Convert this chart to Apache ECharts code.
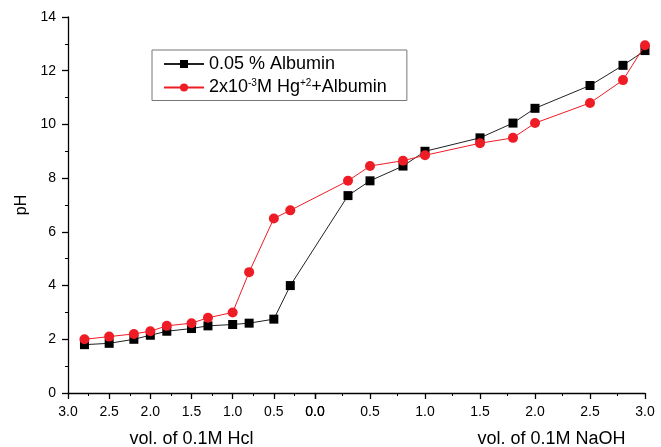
<!DOCTYPE html>
<html><head><meta charset="utf-8">
<script src="https://cdn.jsdelivr.net/npm/echarts@6/dist/echarts.min.js"></script>
<style>html,body{margin:0;padding:0;background:#fff}#c{width:661px;height:447px}</style>
</head><body><div id="c"></div>
<script>
// HCl branch (x read right-to-left on the left half)
var hclVol   = [2.8, 2.5, 2.2, 2.0, 1.8, 1.5, 1.3, 1.0, 0.8, 0.5, 0.3];
var albHcl   = [1.8, 1.85, 2.0, 2.15, 2.3, 2.4, 2.5, 2.55, 2.6, 2.75, 4.0];
var hgHcl    = [2.0, 2.1, 2.2, 2.3, 2.5, 2.6, 2.8, 3.0, 4.5, 6.5, 6.8];
// NaOH branch
var naohVol  = [0.3, 0.5, 0.8, 1.0, 1.5, 1.8, 2.0, 2.5, 2.8, 3.0];
var albNaoh  = [7.35, 7.9, 8.45, 9.0, 9.5, 10.05, 10.6, 11.45, 12.2, 12.75];
var hgNaoh   = [7.9, 8.45, 8.65, 8.85, 9.3, 9.5, 10.05, 10.8, 11.65, 12.95];
var seriesNames = ['0.05 % Albumin', '2x10-3M Hg+2+Albumin'];
var xTitles = ['vol. of 0.1M Hcl', 'vol. of 0.1M NaOH'];
var yTitle = 'pH';

var GL = 68, GT = 17, GH = 376, LW = 247, RW = 330;
var K = LW / RW; // left-half units expressed in right-half units
function join(vHcl, pHcl, vNa, pNa) {
  var out = [];
  for (var i = 0; i < vHcl.length; i++) out.push([-vHcl[i] * K, pHcl[i]]);
  for (var j = 0; j < vNa.length; j++) out.push([vNa[j], pNa[j]]);
  return out;
}
var font = 'Liberation Sans, Arial, sans-serif';
var xCommon = {
  type: 'value', min: 0, max: 3, interval: 0.5,
  axisLine: {show: true, onZero: false, lineStyle: {color: '#000', width: 1.3}},
  axisTick: {show: true, length: 6, lineStyle: {color: '#000', width: 1.3}},
  minorTick: {show: true, splitNumber: 2, length: 3, lineStyle: {color: '#000', width: 1}},
  splitLine: {show: false},
  axisLabel: {color: '#000', fontSize: 14, fontFamily: font, margin: 12,
    formatter: function (v) { return v.toFixed(1); }, showMinLabel: true, showMaxLabel: true},
  nameLocation: 'middle', nameGap: 37,
  nameTextStyle: {color: '#000', fontSize: 18, fontFamily: font}
};
var chart = echarts.init(document.getElementById('c'), null, {renderer: 'canvas'});
chart.setOption({
  animation: false,
  backgroundColor: '#fff',
  grid: [
    {left: GL, top: GT, width: LW, height: GH, containLabel: false, outerBoundsMode: 'none'},
    {left: GL + LW, top: GT, width: RW, height: GH, containLabel: false, outerBoundsMode: 'none'},
    {left: GL, top: GT, width: LW + RW, height: GH, containLabel: false, outerBoundsMode: 'none'}
  ],
  xAxis: [
    Object.assign({}, xCommon, {gridIndex: 0, inverse: true, name: xTitles[0]}),
    Object.assign({}, xCommon, {gridIndex: 1, name: xTitles[1],
      nameTextStyle: {color: '#000', fontSize: 18, fontFamily: font, padding: [0, 0, 0, 143]}}),
    {type: 'value', gridIndex: 2, min: -3 * K, max: 3, show: false}
  ],
  yAxis: [
    {type: 'value', gridIndex: 0, min: 0, max: 14, show: false},
    {type: 'value', gridIndex: 1, min: 0, max: 14, show: false},
    {type: 'value', gridIndex: 2, min: 0, max: 14, interval: 2,
      axisLine: {show: true, onZero: false, lineStyle: {color: '#000', width: 1.3}},
      axisTick: {show: true, length: 6, lineStyle: {color: '#000', width: 1.3}},
      minorTick: {show: true, splitNumber: 2, length: 3, lineStyle: {color: '#000', width: 1}},
      splitLine: {show: false},
      axisLabel: {color: '#000', fontSize: 14, fontFamily: font, margin: 12},
      name: yTitle, nameLocation: 'middle', nameGap: 38,
      nameTextStyle: {color: '#000', fontSize: 16, fontFamily: font}}
  ],
  legend: {
    orient: 'vertical', left: 152, top: 50,
    padding: [5, 20, 4, 11], itemGap: 5, itemWidth: 40, itemHeight: 10,
    borderColor: '#777', borderWidth: 1,
    data: seriesNames,
    textStyle: {color: '#000', fontSize: 18, fontFamily: font,
      rich: {
        a: {fontSize: 18, fontFamily: font, color: '#000'},
        s: {fontSize: 10, fontFamily: font, color: '#000', verticalAlign: 'top', padding: [0, 0, 9, 0]}
      }},
    formatter: function (n) {
      if (n === seriesNames[1]) return '{a|2x10}{s|-3}{a|M Hg}{s|+2}{a|+Albumin}';
      return n;
    }
  },
  series: [
    {name: seriesNames[0], type: 'line', xAxisIndex: 2, yAxisIndex: 2,
      data: join(hclVol, albHcl, naohVol, albNaoh),
      symbol: 'rect', symbolSize: 9, itemStyle: {color: '#000'},
      lineStyle: {color: '#222', width: 1}, z: 3},
    {name: seriesNames[1], type: 'line', xAxisIndex: 2, yAxisIndex: 2,
      data: join(hclVol, hgHcl, naohVol, hgNaoh),
      symbol: 'circle', symbolSize: 10, itemStyle: {color: '#ee1c25'},
      lineStyle: {color: '#ee1c25', width: 1}, z: 4}
  ]
});
</script></body></html>
